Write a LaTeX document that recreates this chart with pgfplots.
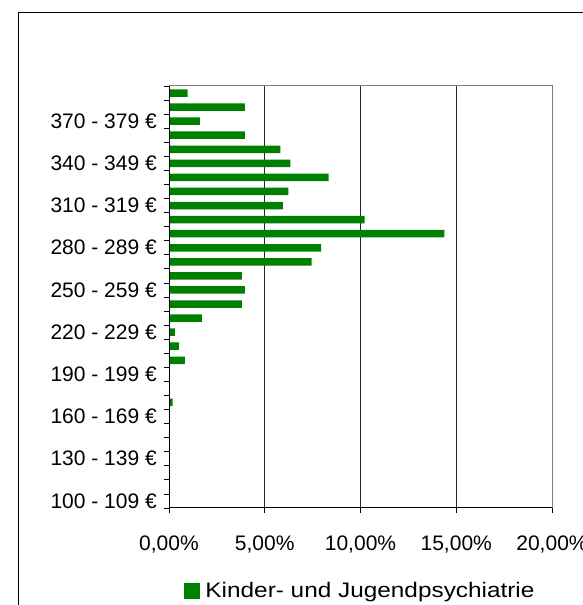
\documentclass[border=0pt]{standalone}
\usepackage{fontspec}
\setmainfont{Liberation Sans}
\usepackage{pgfplots}
\pgfplotsset{compat=1.18}
\definecolor{barg}{RGB}{0,128,0}
\definecolor{frameg}{RGB}{128,128,128}

\begin{document}
\fontsize{21}{25}\selectfont
\begin{tikzpicture}[x=1pt,y=1pt]
\clip (0,0) rectangle (583,605);
\fill[white] (0,0) rectangle (583,605);
% outer chart frame
\draw[black, line width=1pt] (18,-10) -- (18,592) -- (600,592);
\begin{axis}[
    at={(169pt,97pt)}, anchor=south west,
    scale only axis,
    width=383pt, height=422pt,
    xbar, bar width=7.5pt,
    xmin=0, xmax=20,
    ymin=-0.5, ymax=29.5,
    xtick={0,5,10,15,20},
    xticklabels={{0,00\%},{5,00\%},{10,00\%},{15,00\%},{20,00\%}},
    ytick={-0.5,0.5,...,29.5},
    yticklabels={{100 - 109 €},{},{},{130 - 139 €},{},{},{160 - 169 €},{},{},{190 - 199 €},{},{},{220 - 229 €},{},{},{250 - 259 €},{},{},{280 - 289 €},{},{},{310 - 319 €},{},{},{340 - 349 €},{},{},{370 - 379 €},{},{},{}},
    yticklabel style={yshift=7.03pt},
    xticklabel style={yshift=-16pt},
    xtick pos=bottom, ytick pos=left,
    tick align=outside,
    major tick length=5pt,
    tick style={black, line width=0.8pt},
    xmajorgrids,
    major grid style={black!85, line width=0.8pt},
    axis line style={frameg, line width=1pt},
    legend style={at={(0.5,-0.197)}, anchor=center, draw=none, fill=none,
        /tikz/every even column/.append style={column sep=4pt}},
    legend image code/.code={\fill[barg] (-1pt,-8pt) rectangle (15pt,8pt);},
    clip=false,
]
\addplot[fill=barg, draw=none] coordinates {
    (0,0) (0,1) (0,2) (0,3) (0,4) (0,5) (0,6)
    (0.19,7) (0,8) (0,9)
    (0.83,10) (0.52,11) (0.31,12) (1.72,13) (3.80,14)
    (3.96,15) (3.80,16) (7.45,17) (7.95,18) (14.38,19)
    (10.21,20) (5.94,21) (6.23,22) (8.33,23) (6.34,24)
    (5.82,25) (3.96,26) (1.61,27) (3.96,28) (0.97,29)
};
\addlegendentry{\hspace{3pt}\scalebox{1.16}[1]{Kinder- und Jugendpsychiatrie}}
% left and bottom axis lines in black
\draw[black, line width=1pt] (rel axis cs:0,1) -- (rel axis cs:0,0) -- (rel axis cs:1,0);
\end{axis}
\end{tikzpicture}
\end{document}
